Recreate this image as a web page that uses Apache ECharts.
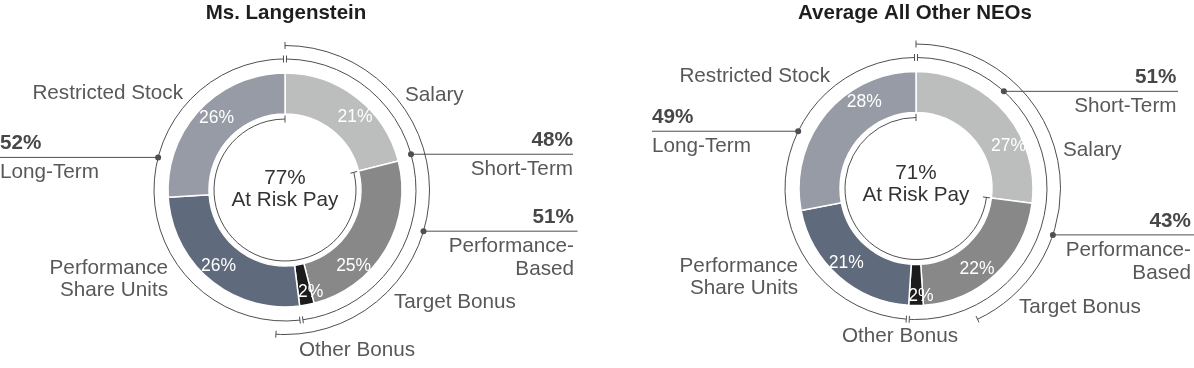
<!DOCTYPE html>
<html>
<head>
<meta charset="utf-8">
<script src="https://cdn.jsdelivr.net/npm/echarts@6/dist/echarts.min.js"></script>
<style>
html,body{margin:0;padding:0;background:#fff;}
#c{width:1194px;height:368px;}
</style>
</head>
<body>
<div id="c"></div>
<script>
// ---------------- data ----------------
const chartTitles = ['Ms. Langenstein', 'Average All Other NEOs'];
const sliceNames = ['Salary', 'Target Bonus', 'Other Bonus', 'Performance\nShare Units', 'Restricted Stock'];
const langensteinShares = [21, 25, 2, 26, 26];
const otherNeoShares = [27, 22, 2, 21, 28];
const groupNames = ['Short-Term', 'Long-Term', 'Performance-\nBased'];
const langensteinGroups = [48, 52, 51];
const otherNeoGroups = [51, 49, 43];
const atRiskText = 'At Risk Pay';
const langensteinAtRisk = 77;
const otherNeoAtRisk = 71;

// ---------------- style / layout ----------------
const FONT = "'Liberation Sans', Arial, Helvetica, sans-serif";
const TXT = '#585858';
const LINE = '#4f4f4f';
const FS = 20.7;
const SLICE_COLORS = ['#bcbdbd', '#888888', '#1c1c1c', '#5f6b7c', '#979ba6'];
const RING = [71, 131, 144.5];       // inner "at risk" arc, term arcs, performance arc
const GAP = 1.5, TICK = 3.5;

const LAYOUT = [
  {
    center: [285, 190], title: 286,
    centerText: [-12, 10.7],
    names: [[120, -95, 'left'], [109, 112, 'left'], [72, 160, 'center'], [-117, 89, 'right'], [-102, -97, 'right']],
    pctNudge: [[9, 6], [-17, 26], [7, 4], [-3, 0], [4, -4]],
    callouts: [
      {at: 20.6, ring: 1, lineTo: 288, textX: 288, align: 'right'},
      {at: 79, ring: 1, lineTo: -285, textX: -285, align: 'left'},
      {at: 29.6, ring: 2, lineTo: 292.5, textX: 289, align: 'right'}
    ]
  },
  {
    center: [916, 188.5], title: 915,
    centerText: [-15.2, 7.2],
    names: [[147, -38.5, 'left'], [103, 119, 'left'], [-16, 148, 'center'], [-118, 89, 'right'], [-86, -112, 'right']],
    pctNudge: [[18, 23], [-7, 8], [5, 8], [-4, 0], [25, -23]],
    callouts: [
      {at: 11.7, ring: 1, lineTo: 262, textX: 260.5, align: 'right'},
      {at: 82.2, ring: 1, lineTo: -264, textX: -264, align: 'left'},
      {at: 30.2, ring: 2, lineTo: 278, textX: 275, align: 'right'}
    ]
  }
];

const SHARES = [langensteinShares, otherNeoShares];
const GROUPS = [langensteinGroups, otherNeoGroups];
const ATRISK = [langensteinAtRisk, otherNeoAtRisk];

function txt(text, x, y, o) {
  return {
    type: 'text',
    style: Object.assign({
      text: text, x: x, y: y, fill: TXT, fontSize: FS, fontFamily: FONT,
      align: 'center', verticalAlign: 'middle'
    }, o || {})
  };
}

const chart = echarts.init(document.getElementById('c'), null, {renderer: 'canvas'});
const polar = [], angleAxis = [], radiusAxis = [], series = [], title = [];
const hiddenAxis = {show: false, axisLine: {show: false}, axisTick: {show: false}, axisLabel: {show: false}, splitLine: {show: false}};

LAYOUT.forEach(function (L, k) {
  const shares = SHARES[k], groups = GROUPS[k], atRisk = ATRISK[k];

  title.push({
    text: chartTitles[k], left: L.title, top: 3, padding: 0, textAlign: 'center',
    textStyle: {fontSize: 20.5, fontWeight: 'bold', color: '#1e1e1e', fontFamily: FONT}
  });

  polar.push({center: L.center, radius: 200});
  angleAxis.push(Object.assign({polarIndex: k, type: 'value', min: 0, max: 100, startAngle: 90, clockwise: true}, hiddenAxis));
  radiusAxis.push(Object.assign({polarIndex: k, type: 'value', min: 0, max: 200}, hiddenAxis));

  // donut
  series.push({
    type: 'pie', center: L.center, radius: [76, 117], startAngle: 90, clockwise: true,
    silent: true, animation: false, avoidLabelOverlap: false,
    data: sliceNames.map(function (n, i) { return {name: n, value: shares[i], itemStyle: {color: SLICE_COLORS[i]}}; }),
    itemStyle: {borderColor: '#ffffff', borderWidth: 1.5},
    label: {show: true, position: 'inside', formatter: '{c}%', color: '#ffffff', fontSize: 17.5, fontFamily: FONT},
    labelLine: {show: false},
    labelLayout: function (p) { const n = L.pctNudge[p.dataIndex]; return {dx: n[0], dy: n[1]}; },
    emphasis: {disabled: true}
  });

  // annotation arcs: [start%, end%, ring, gap]
  const arcData = [
    [shares[0], 100, 0, 0],
    [0, groups[0], 1, 1],
    [100 - groups[1], 100, 1, 1],
    [0, groups[2], 2, 0]
  ];
  series.push({
    type: 'custom', coordinateSystem: 'polar', polarIndex: k, silent: true, animation: false,
    data: arcData,
    renderItem: function (params, api) {
      const a = api.value(0), b = api.value(1), r = RING[api.value(2)];
      const c = api.coord([0, 0]);
      const p0 = api.coord([r, a]), p1 = api.coord([r, b]);
      let t0 = Math.atan2(p0[1] - c[1], p0[0] - c[0]);
      let t1 = Math.atan2(p1[1] - c[1], p1[0] - c[0]);
      while (t1 <= t0 + 1e-6) t1 += 2 * Math.PI;
      const g = api.value(3) ? GAP / r : 0;
      t0 += g; t1 -= g;
      const children = [{
        type: 'arc',
        shape: {cx: c[0], cy: c[1], r: r, startAngle: t0, endAngle: t1, clockwise: true},
        style: {stroke: LINE, fill: null, lineWidth: 1}
      }];
      [t0, t1].forEach(function (t) {
        children.push({
          type: 'line',
          shape: {
            x1: c[0] + (r - TICK) * Math.cos(t), y1: c[1] + (r - TICK) * Math.sin(t),
            x2: c[0] + (r + TICK) * Math.cos(t), y2: c[1] + (r + TICK) * Math.sin(t)
          },
          style: {stroke: LINE, lineWidth: 1}
        });
      });
      return {type: 'group', children: children};
    }
  });

  // callouts: dot, leader line, value and group name
  series.push({
    type: 'custom', coordinateSystem: 'polar', polarIndex: k, silent: true, animation: false,
    data: groups.map(function (v, i) { return [v, i]; }),
    renderItem: function (params, api) {
      const v = api.value(0), gi = api.value(1), C = L.callouts[gi];
      const c = api.coord([0, 0]);
      const d = api.coord([RING[C.ring], C.at]);
      const tx = c[0] + C.textX;
      return {
        type: 'group',
        children: [
          {type: 'line', shape: {x1: d[0], y1: d[1], x2: c[0] + C.lineTo, y2: d[1]}, style: {stroke: LINE, lineWidth: 1}},
          {type: 'circle', shape: {cx: d[0], cy: d[1], r: 3}, style: {fill: LINE}},
          txt(v + '%', tx, d[1] - 4, {align: C.align, verticalAlign: 'bottom', fontWeight: 'bold', fill: '#474747', lineHeight: 20}),
          txt(groupNames[gi], tx, d[1] + 3.5, {align: C.align, verticalAlign: 'top', lineHeight: 23})
        ]
      };
    }
  });

  // slice names
  series.push({
    type: 'custom', coordinateSystem: 'polar', polarIndex: k, silent: true, animation: false,
    data: shares.map(function (v, i) { return [v, i]; }),
    renderItem: function (params, api) {
      const i = api.value(1), N = L.names[i];
      const c = api.coord([0, 0]);
      return txt(sliceNames[i], c[0] + N[0], c[1] + N[1], {align: N[2], lineHeight: 22});
    }
  });

  // centre text
  series.push({
    type: 'custom', coordinateSystem: 'polar', polarIndex: k, silent: true, animation: false,
    data: [[atRisk, 0]],
    renderItem: function (params, api) {
      const c = api.coord([0, 0]);
      return {
        type: 'group',
        children: [
          txt(api.value(0) + '%', c[0], c[1] + L.centerText[0], {fill: '#333333'}),
          txt(atRiskText, c[0], c[1] + L.centerText[1], {fill: '#333333'})
        ]
      };
    }
  });
});

chart.setOption({
  backgroundColor: '#ffffff',
  animation: false,
  title: title,
  polar: polar,
  angleAxis: angleAxis,
  radiusAxis: radiusAxis,
  series: series
});
</script>
</body>
</html>
